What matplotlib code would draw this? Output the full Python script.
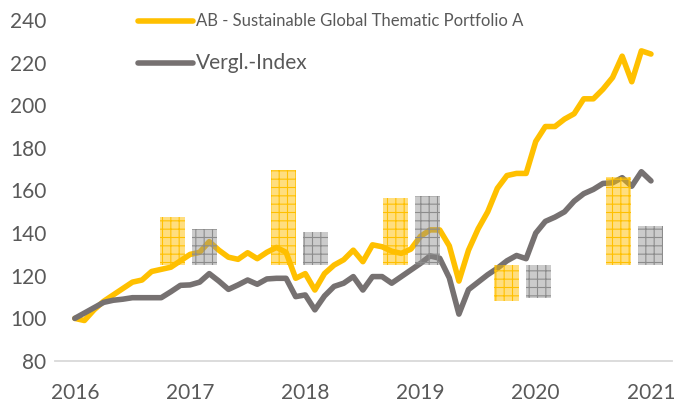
import numpy as np
import matplotlib.pyplot as plt

plt.rcParams['font.family'] = ['Lato', 'DejaVu Sans']

# monthly index values, Jan 2016 .. Jan 2021 (start = 100)
fund = [100, 99, 104, 108, 111, 114, 117, 118, 122, 123, 124, 127,
        130, 131, 136, 132, 128.7, 127.7, 130.8, 128, 131, 133.3, 131, 118.8,
        121, 113.3, 121, 125, 127.5, 132, 126.6, 134.5, 133.6, 131.5, 130.5, 132.5,
        138.5, 141.5, 141.5, 134, 117.5, 132, 142, 150, 161, 167, 168, 168,
        183, 190, 190, 193.5, 196, 203, 203, 207.5, 213, 223, 211, 225.5,
        224]
index = [100, 102.5, 105, 107.5, 108.5, 109, 109.7, 109.7, 109.7, 109.7, 112.5, 115.5,
         115.7, 117, 121, 117.5, 113.6, 115.7, 118, 116, 118.5, 118.8, 118.8, 110.2,
         111, 104, 110.5, 115, 116.5, 119.6, 113.3, 119.6, 119.6, 116.5, 119.6, 122.7,
         125.8, 129.3, 128.2, 119, 102, 113.5, 117, 120.5, 123.5, 127, 129.5, 128,
         140, 145.5, 147.5, 150, 155, 158.5, 160.5, 163.3, 163.6, 166, 162, 168.8,
         164.5]
years = [2016, 2017, 2018, 2019, 2020, 2021]

# yearly bars, drawn from a base level of 125
bar_base = 125
fund_bar = [22.5, 44.5, 31.5, -17, 41.5]
index_bar = [17, 15.5, 32.5, -15.5, 18.5]

labels = ['AB - Sustainable Global Thematic Portfolio A', 'Vergl.-Index']
yellow = '#FFC000'
grey = '#767171'
text_col = '#595959'

t = 2016 + np.arange(len(fund)) / 12

fig = plt.figure(figsize=(6.76, 4.07), dpi=100)
ax = fig.add_axes([0.081, 0.113, 0.913, 0.838])

l1, = ax.plot(t, fund, color=yellow, lw=4, solid_joinstyle='round', solid_capstyle='round')
l2, = ax.plot(t, index, color=grey, lw=4, solid_joinstyle='round', solid_capstyle='round')

ax.set_xlim(2015.826, 2021.182)
ax.set_ylim(80, 240)
ax.set_yticks(np.arange(80, 241, 20))
ax.set_xticks(years)
ax.tick_params(length=0, labelsize=15, colors=text_col)
ax.tick_params(axis='x', pad=16)
ax.tick_params(axis='y', pad=6)
for s in ['left', 'right', 'top']:
    ax.spines[s].set_visible(False)
ax.spines['bottom'].set_color('#D9D9D9')
ax.spines['bottom'].set_linewidth(1.3)

# bars on a second x axis (categories)
ax2 = ax.twiny()
ax2.set_xlim(-1.2, 4.34)
ax2.axis('off')
pos = np.arange(len(fund_bar))
plt.rcParams['hatch.linewidth'] = 0.8
ax2.bar(pos - 0.1436, fund_bar, width=0.224, bottom=bar_base,
        facecolor=(1, 0.75, 0, 0.5), edgecolor=yellow, hatch='++', linewidth=0)
ax2.bar(pos + 0.1436, index_bar, width=0.224, bottom=bar_base,
        facecolor=(0.55, 0.55, 0.55, 0.45), edgecolor='#8C8C8C', hatch='++', linewidth=0)

leg = ax2.legend([l1, l2], labels, loc='upper left', bbox_to_anchor=(0.111, 1.063),
                 frameon=False, handlelength=3.3, handletextpad=0.15,
                 labelspacing=1.42, fontsize=12)
for txt, fs in zip(leg.get_texts(), [12, 15]):
    txt.set_fontsize(fs)
    txt.set_color(text_col)

fig.savefig('out.png', dpi=100)
